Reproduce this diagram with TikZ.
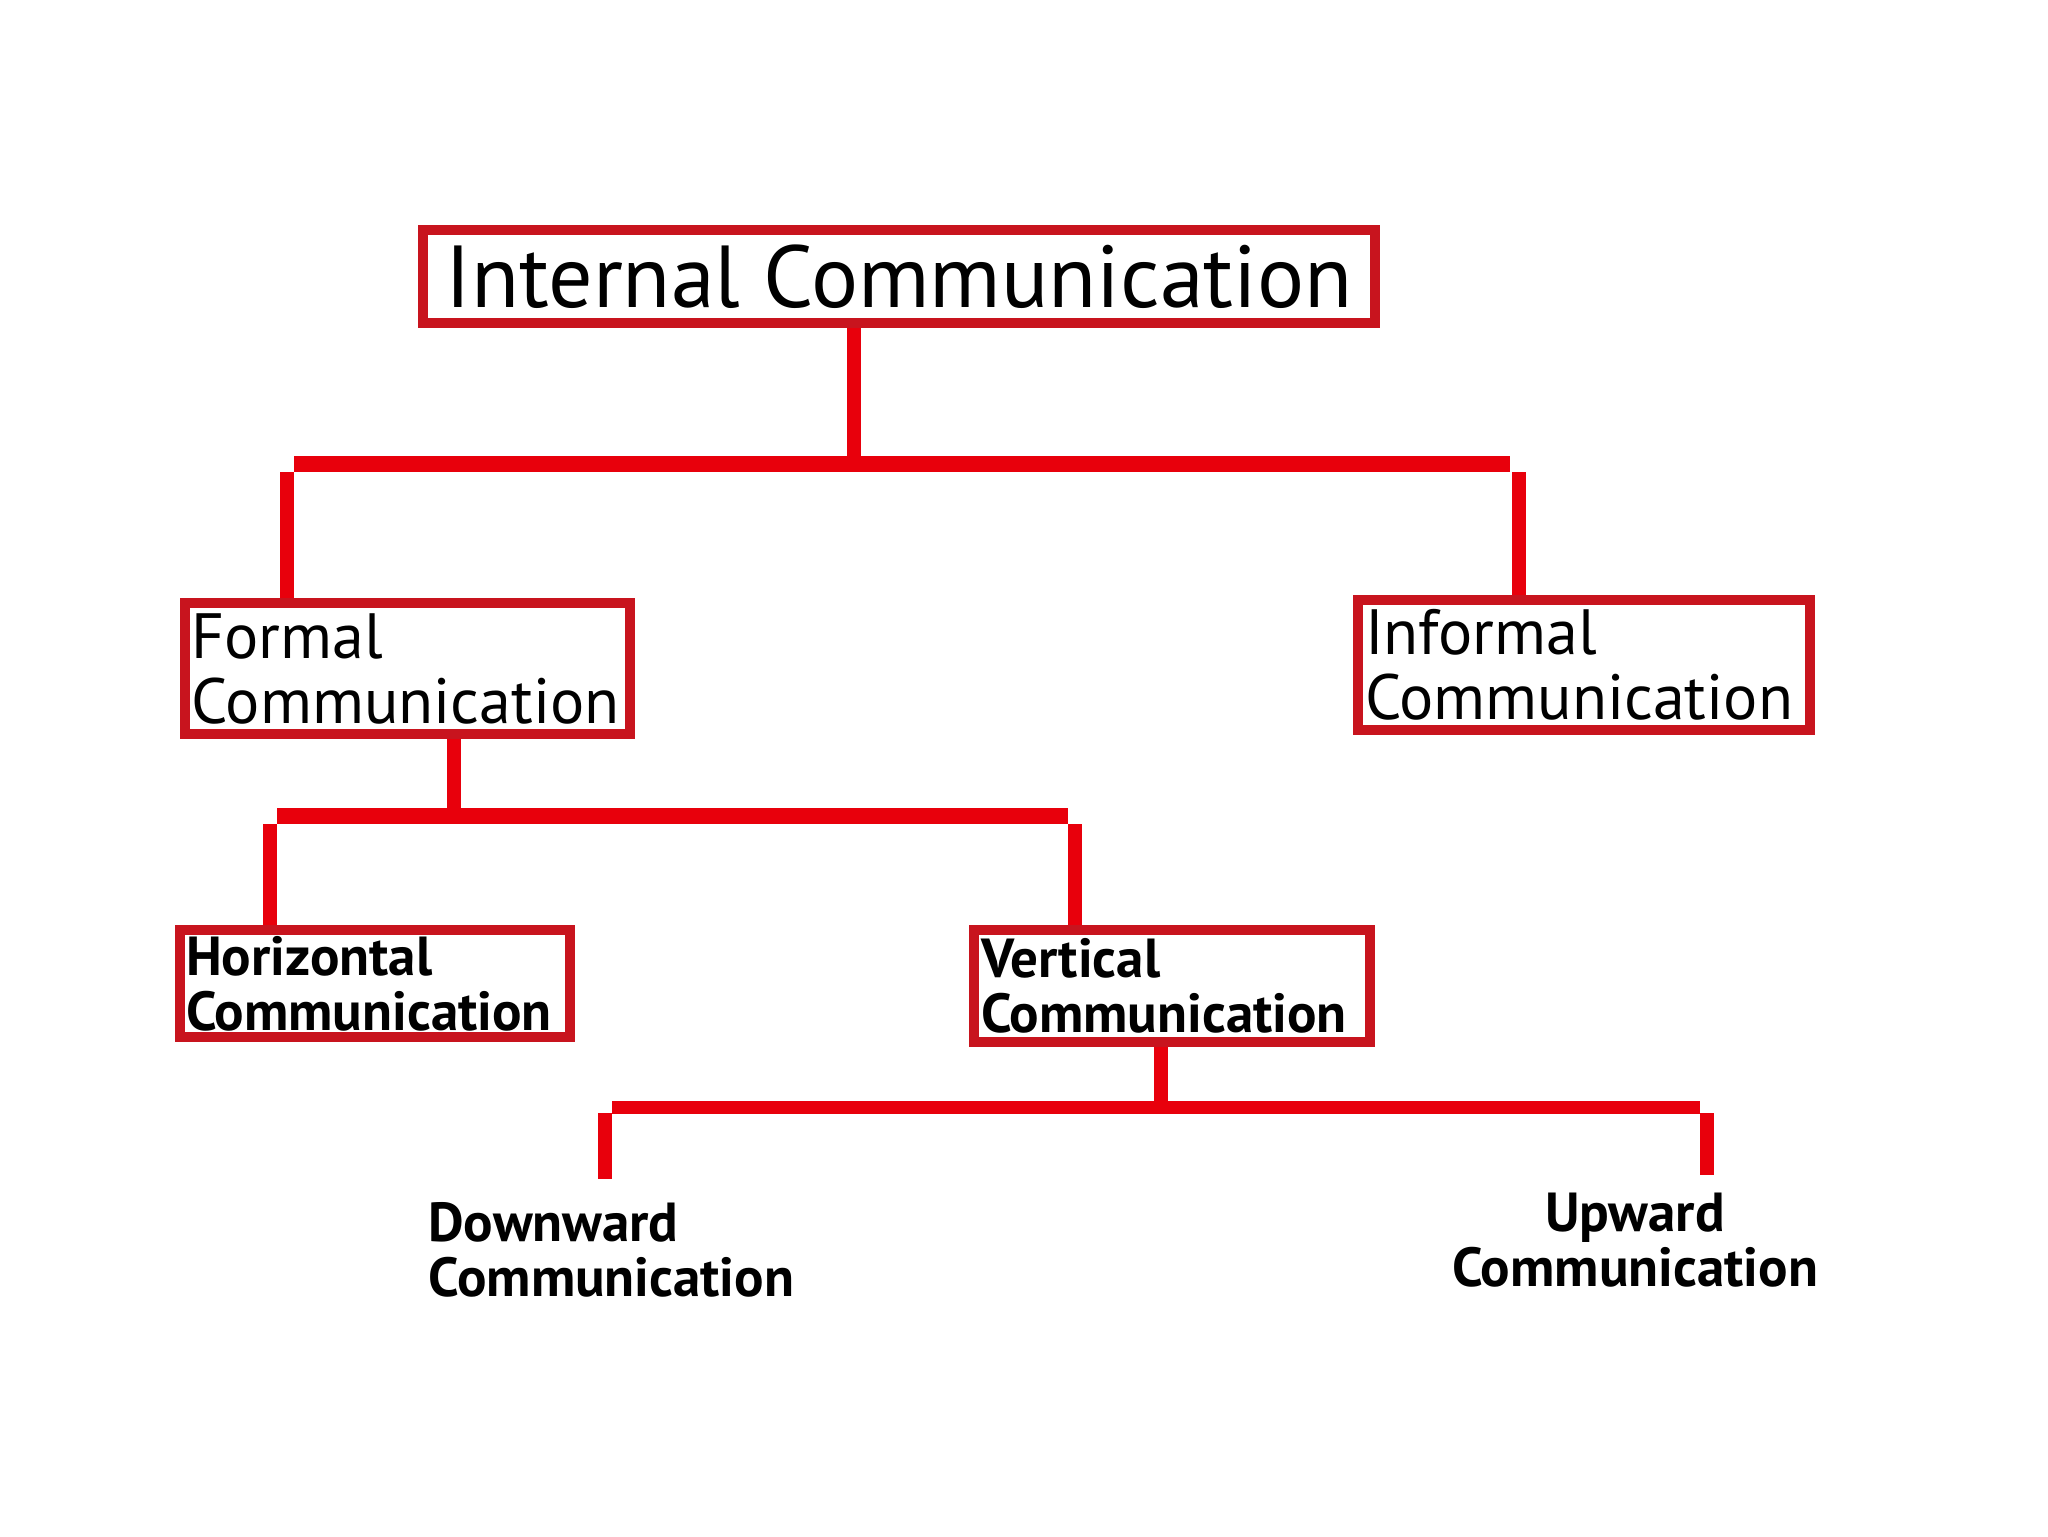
\documentclass[tikz,border=0pt]{standalone}
\usepackage{fontspec}
\setmainfont{PT Sans}
\definecolor{boxred}{HTML}{C8141E}
\definecolor{linered}{HTML}{E8000C}
\begin{document}
\begin{tikzpicture}[x=0.5pt,y=-0.5pt,
  box/.style={draw=boxred, line width=5pt, fill=white, rectangle, inner xsep=3pt, inner ysep=0pt, align=left},
  topfont/.style={font=\fontsize{44}{50}\selectfont},
  midfont/.style={font=\fontsize{32}{32.5}\selectfont},
  lowfont/.style={font=\fontsize{27.5}{27.5}\selectfont\bfseries},
  conn/.style={draw=linered, line width=7pt},
  bar/.style={draw=linered, line width=8pt},
  thinbar/.style={draw=linered, line width=6.5pt},
  lbl/.style={inner sep=0pt}]
\fill[white] (0,0) rectangle (2048,1536);
\useasboundingbox (0,0) rectangle (2048,1536);
% boxes
\node[box, topfont, align=center, minimum width=476pt, minimum height=46.5pt] (ic) at (899,276.5) {Internal Communication};
\node[box, midfont, minimum width=222.5pt, minimum height=65.5pt, text width=216pt] (formal) at (407.5,668.5) {Formal\\Communication};
\node[box, midfont, minimum width=226pt, minimum height=65pt, text width=219pt] (informal) at (1584,665) {Informal\\Communication};
\node[box, lowfont, minimum width=195pt, minimum height=53.5pt, text width=189pt] (horiz) at (375,983.5) {Horizontal\\Communication};
\node[box, lowfont, minimum width=198pt, minimum height=56pt, text width=191pt] (vert) at (1172,986) {Vertical\\Communication};
\node[lbl, lowfont, anchor=west, align=left] (down) at (428,1250) {Downward\\Communication};
\node[lbl, lowfont, align=center] (up) at (1635,1240) {Upward\\Communication};
% level 1 connectors
\coordinate (j1) at (854,464);
\coordinate (b1l) at (294,464);
\coordinate (b1r) at (1510,464);
\coordinate (d1l) at (287,472);
\coordinate (d1r) at (1519,472);
\draw[conn] (j1 |- ic.south) -- (j1);
\draw[bar] (b1l) -- (b1r);
\draw[conn] (d1l) -- (d1l |- formal.north);
\draw[conn] (d1r) -- (d1r |- informal.north);
% level 2 connectors
\coordinate (j2) at (454,816);
\coordinate (b2l) at (277,816);
\coordinate (b2r) at (1068,816);
\coordinate (d2l) at (270,824);
\coordinate (d2r) at (1075,824);
\draw[conn] (j2 |- formal.south) -- (j2);
\draw[bar] (b2l) -- (b2r);
\draw[conn] (d2l) -- (d2l |- horiz.north);
\draw[conn] (d2r) -- (d2r |- vert.north);
% level 3 connectors
\coordinate (j3) at (1161,1107);
\coordinate (b3l) at (612,1107);
\coordinate (b3r) at (1700,1107);
\coordinate (d3l) at (605,1113);
\coordinate (d3r) at (1707,1113);
\coordinate (e3l) at (605,1179);
\coordinate (e3r) at (1707,1175);
\draw[conn] (j3 |- vert.south) -- (j3);
\draw[thinbar] (b3l) -- (b3r);
\draw[conn] (d3l) -- (e3l);
\draw[conn] (d3r) -- (e3r);
\end{tikzpicture}
\end{document}
